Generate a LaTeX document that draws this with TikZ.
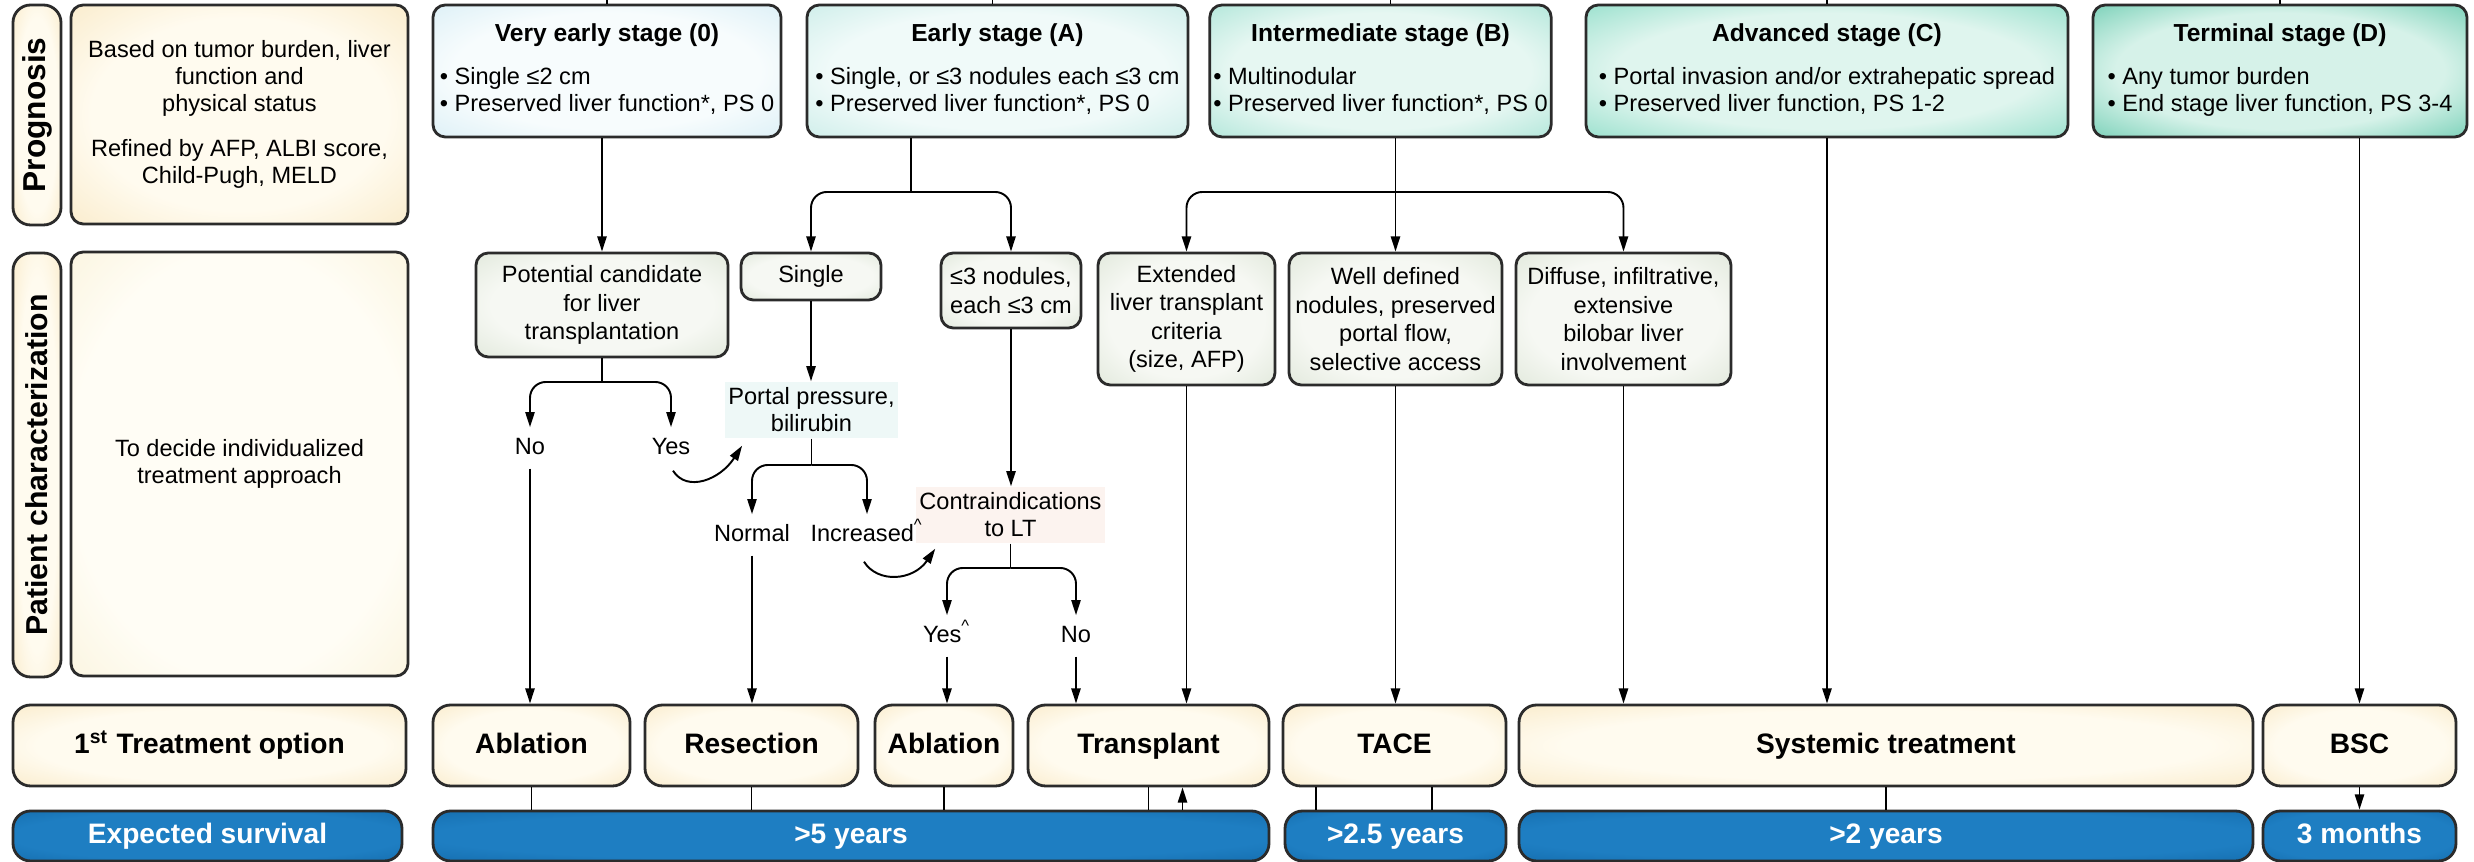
\documentclass[tikz,border=0pt]{standalone}
\usepackage{fontspec}
\setmainfont{Liberation Sans}
\usetikzlibrary{arrows.meta,calc}
\definecolor{bordc}{HTML}{2B2B2B}
\definecolor{crIn}{HTML}{FFFBEF}
\definecolor{crOut}{HTML}{F5DDAA}
\definecolor{cr2In}{HTML}{FFFDF5}
\definecolor{cr2Out}{HTML}{F6EBC6}
\definecolor{s0In}{HTML}{F7FCFD}
\definecolor{s0Out}{HTML}{C3E4F0}
\definecolor{saIn}{HTML}{F0FAF9}
\definecolor{saOut}{HTML}{ADE2DB}
\definecolor{sbIn}{HTML}{E6F7F2}
\definecolor{sbOut}{HTML}{7FD6C2}
\definecolor{scIn}{HTML}{DFF5EE}
\definecolor{scOut}{HTML}{55CCAD}
\definecolor{sdIn}{HTML}{D6F2E9}
\definecolor{sdOut}{HTML}{1FB088}
\definecolor{grIn}{HTML}{F6F8F3}
\definecolor{grOut}{HTML}{CEDAC6}
\definecolor{blIn}{HTML}{1E7EC2}
\definecolor{blOut}{HTML}{0B5B98}
\definecolor{ppFill}{HTML}{EEF8F7}
\definecolor{ciFill}{HTML}{FCF3EF}
\pgfdeclareradialshading{shCr}{\pgfpoint{0bp}{0bp}}{color(0bp)=(crIn); color(22bp)=(crIn); color(50bp)=(crOut); color(72bp)=(crOut)}
\pgfdeclareradialshading{shCrL}{\pgfpoint{0bp}{0bp}}{color(0bp)=(cr2In); color(25bp)=(cr2In); color(50bp)=(cr2Out); color(72bp)=(cr2Out)}
\pgfdeclareradialshading{shS0}{\pgfpoint{0bp}{0bp}}{color(0bp)=(s0In); color(22bp)=(s0In); color(50bp)=(s0Out); color(72bp)=(s0Out)}
\pgfdeclareradialshading{shSA}{\pgfpoint{0bp}{0bp}}{color(0bp)=(saIn); color(22bp)=(saIn); color(50bp)=(saOut); color(72bp)=(saOut)}
\pgfdeclareradialshading{shSB}{\pgfpoint{0bp}{0bp}}{color(0bp)=(sbIn); color(22bp)=(sbIn); color(50bp)=(sbOut); color(72bp)=(sbOut)}
\pgfdeclareradialshading{shSC}{\pgfpoint{0bp}{0bp}}{color(0bp)=(scIn); color(22bp)=(scIn); color(50bp)=(scOut); color(72bp)=(scOut)}
\pgfdeclareradialshading{shSD}{\pgfpoint{0bp}{0bp}}{color(0bp)=(sdIn); color(22bp)=(sdIn); color(50bp)=(sdOut); color(72bp)=(sdOut)}
\pgfdeclareradialshading{shGr}{\pgfpoint{0bp}{0bp}}{color(0bp)=(grIn); color(22bp)=(grIn); color(50bp)=(grOut); color(72bp)=(grOut)}
\pgfdeclareradialshading{shBl}{\pgfpoint{0bp}{0bp}}{color(0bp)=(blIn); color(25bp)=(blIn); color(50bp)=(blOut); color(72bp)=(blOut)}
\tikzset{
  every node/.style={font=\fontsize{6.7}{7.7}\selectfont},
  bx/.style={draw=bordc, line width=0.8pt, rounded corners=3.5pt, inner sep=1pt, align=center, shade},
  cream/.style={bx, shading=shCr},
  creamL/.style={bx, shading=shCrL},
  vcream/.style={bx, shading=shCr, rounded corners=5pt, font=\fontsize{9}{10}\selectfont\bfseries},
  st0/.style={bx, shading=shS0},
  stA/.style={bx, shading=shSA},
  stB/.style={bx, shading=shSB},
  stC/.style={bx, shading=shSC},
  stD/.style={bx, shading=shSD},
  gr/.style={bx, shading=shGr, font=\fontsize{6.7}{8.1}\selectfont},
  tr/.style={bx, shading=shCr, rounded corners=5pt, text height=6pt, text depth=1.7pt, font=\fontsize{8}{9.6}\selectfont\bfseries},
  sv/.style={bx, shading=shBl, rounded corners=5pt, text=white, text height=6pt, text depth=1.7pt, font=\fontsize{8}{9.6}\selectfont\bfseries},
  pp/.style={fill=ppFill, inner sep=1pt, align=center},
  ci/.style={fill=ciFill, inner sep=1pt, align=center},
  lbl/.style={inner sep=2.5pt, text height=5pt, text depth=1.4pt},
  line/.style={draw=black, line width=0.55pt},
  arr/.style={line, -{Triangle[length=4.3pt,width=2.6pt]}},
  rc/.style={rounded corners=4.5pt}
}
\newcommand\bxat[7]{\node[#1, minimum width={(#5-#3)*0.01cm}, minimum height={(#6-#4)*0.01cm}] (#2) at ({(#3+#5)/2},{(#4+#6)/2}) {#7};}
\newcommand\stg[3]{\begin{tabular}{@{}l@{}}\multicolumn{1}{@{}c@{}}{\fontsize{7}{7.7}\selectfont\bfseries #1}\\[4.5pt]• #2\\• #3\end{tabular}}
\begin{document}
\begin{tikzpicture}[x=0.01cm, y=-0.01cm]
\useasboundingbox (0,0) rectangle (2474,862);
\fill[white] (0,0) rectangle (2474,862);
% row 1
\node[vcream, rotate=90, minimum width={220*0.01cm}, minimum height={48*0.01cm}] (PL) at (37,115) {Prognosis};
\bxat{cream}{PT}{71}{5}{408}{224}{Based on tumor burden, liver\\function and\\physical status\\[5pt]Refined by AFP, ALBI score,\\Child-Pugh, MELD}
\bxat{st0}{S0}{433}{5}{781}{137}{\stg{Very early stage (0)}{Single ≤2 cm}{Preserved liver function*, PS 0}}
\bxat{stA}{SA}{807}{5}{1188}{137}{\stg{Early stage (A)}{Single, or ≤3 nodules each ≤3 cm}{Preserved liver function*, PS 0}}
\bxat{stB}{SB}{1213}{5}{1548}{137}{\stg{Intermediate stage (B)}{Multinodular}{Preserved liver function*, PS 0}}
\bxat{stC}{SC}{1586}{5}{2068}{137}{\stg{Advanced stage (C)}{Portal invasion and/or extrahepatic spread}{Preserved liver function, PS 1-2}}
\bxat{stD}{SD}{2093}{5}{2467}{137}{\stg{Terminal stage (D)}{Any tumor burden}{End stage liver function, PS 3-4}}
% row 2
\node[vcream, rotate=90, minimum width={424*0.01cm}, minimum height={48*0.01cm}, font=\fontsize{8.6}{10}\selectfont\bfseries] (CL) at (37,465) {Patient characterization};
\bxat{creamL}{CT}{71}{252}{408}{676}{To decide individualized\\treatment approach}
\bxat{gr}{PC}{476}{253}{728}{357}{Potential candidate\\for liver\\transplantation}
\bxat{gr}{SG}{741}{253}{881}{300}{Single}
\bxat{gr}{ND}{941}{253}{1081}{328}{≤3 nodules,\\each ≤3 cm}
\bxat{gr}{EX}{1098}{253}{1275}{385}{Extended\\liver transplant\\criteria\\(size, AFP)}
\bxat{gr}{WD}{1289}{253}{1502}{385}{Well defined\\nodules, preserved\\portal flow,\\selective access}
\bxat{gr}{DF}{1516}{253}{1731}{385}{Diffuse, infiltrative,\\extensive\\bilobar liver\\involvement}
\bxat{pp}{PP}{728}{382}{895}{438}{Portal pressure,\\bilirubin}
\bxat{ci}{CI}{918}{487}{1103}{543}{Contraindications\\to LT}
\node[lbl] (nNo) at (530,448) {No};
\node[lbl] (nYes) at (671,448) {Yes};
\node[lbl] (nNormal) at (752,535) {Normal};
\node[lbl] (nIncr) at (867,535) {Increased\textsuperscript{\textasciicircum}};
\node[lbl] (nYesA) at (947,636) {Yes\textsuperscript{\textasciicircum}};
\node[lbl] (nNoB) at (1076,636) {No};
% row 3
\bxat{tr}{TL}{13}{705}{406}{786}{1\textsuperscript{\fontsize{5.5}{6}\selectfont st} Treatment option}
\bxat{tr}{AB1}{433}{705}{630}{786}{Ablation}
\bxat{tr}{RS}{645}{705}{858}{786}{Resection}
\bxat{tr}{AB2}{875}{705}{1013}{786}{Ablation}
\bxat{tr}{TR}{1028}{705}{1269}{786}{Transplant}
\bxat{tr}{TA}{1283}{705}{1506}{786}{TACE}
\bxat{tr}{SY}{1519}{705}{2253}{786}{Systemic treatment}
\bxat{tr}{BS}{2263}{705}{2456}{786}{BSC}
% row 4
\bxat{sv}{ES}{13}{811}{402}{861}{Expected survival}
\bxat{sv}{Y5}{433}{811}{1269}{861}{>5 years}
\bxat{sv}{Y25}{1285}{811}{1506}{861}{>2.5 years}
\bxat{sv}{Y2}{1519}{811}{2253}{861}{>2 years}
\bxat{sv}{M3}{2263}{811}{2456}{861}{3 months}
% stubs at top
\draw[line] (S0.north) -- ++(0,-6);
\draw[line] ([xshift=-0.05cm]SA.north) -- ++(0,-6);
\draw[line] ([xshift=0.1cm]SB.north) -- ++(0,-6);
\draw[line] (SC.north) -- ++(0,-6);
\draw[line] (SD.north) -- ++(0,-6);
% junctions
\coordinate (jA) at (911,192);
\coordinate (jB) at (1395.5,192);
\coordinate (jPC) at (602,382);
\coordinate (jP) at (811.5,465);
\coordinate (jC) at (1010.5,568);
% connectors
\draw[arr] (S0.south -| PC.north) -- (PC.north);
\draw[line] (SA.south -| jA) -- (jA);
\draw[arr, rc] (jA) -| (SG.north);
\draw[arr, rc] (jA) -| (ND.north);
\draw[arr] (SB.south -| WD.north) -- (WD.north);
\draw[arr, rc] (jB) -| (EX.north);
\draw[arr, rc] (jB) -| (DF.north);
\draw[line] (PC.south) -- (jPC);
\draw[arr, rc] (jPC) -| (nNo.north);
\draw[arr, rc] (jPC) -| (nYes.north);
\draw[arr] (SG.south) -- (SG.south |- PP.north);
\draw[line] (PP.south) -- (jP);
\draw[arr, rc] (jP) -| (nNormal.north);
\draw[arr, rc] (jP) -| (nIncr.north);
\draw[arr] (ND.south) -- (ND.south |- CI.north);
\draw[line] (CI.south) -- (jC);
\draw[arr, rc] (jC) -| (nYesA.north);
\draw[arr, rc] (jC) -| (nNoB.north);
\draw[arr] ($(nYes.south)+(2,2)$) .. controls +(14,22) and +(-22,34) .. ($(PP.south west)+(18,7)$);
\draw[arr] ($(nIncr.south)+(-3,6)$) .. controls +(14,22) and +(-22,32) .. ($(CI.south west)+(20,5)$);
\draw[arr] (nNo.south) -- (nNo.south |- AB1.north);
\draw[arr] (nNormal.south) -- (nNormal.south |- RS.north);
\draw[arr] (nYesA.south) -- (nYesA.south |- AB2.north);
\draw[arr] (nNoB.south) -- (nNoB.south |- TR.north);
\draw[arr] (EX.south) -- (EX.south |- TR.north);
\draw[arr] (WD.south) -- (WD.south |- TA.north);
\draw[arr] (DF.south) -- (DF.south |- SY.north);
\draw[arr] (SC.south) -- (SC.south |- SY.north);
\draw[arr] (BS.north |- SD.south) -- (BS.north);
% bottom links
\draw[line] (AB1.south) -- (AB1.south |- Y5.north);
\draw[line] (RS.south) -- (RS.south |- Y5.north);
\draw[line] (AB2.south) -- (AB2.south |- Y5.north);
\draw[line] (TR.south) -- (TR.south |- Y5.north);
\draw[arr] ([xshift=0.34cm]TR.south |- Y5.north) -- ([xshift=0.34cm]TR.south);
\draw[line] ([xshift=-0.785cm]TA.south) -- ([xshift=-0.785cm]TA.south |- Y25.north);
\draw[line] ([xshift=0.375cm]TA.south) -- ([xshift=0.375cm]TA.south |- Y25.north);
\draw[line] (SY.south) -- (SY.south |- Y2.north);
\draw[arr] (BS.south) -- (BS.south |- M3.north);
\end{tikzpicture}
\end{document}
